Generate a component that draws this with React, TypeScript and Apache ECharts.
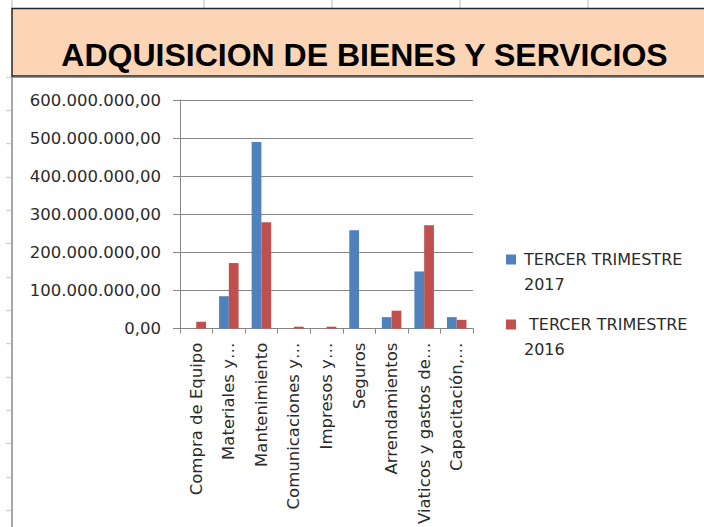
import React, { useEffect, useRef } from 'react';
import * as echarts from 'echarts';

const titleText = 'ADQUISICION DE BIENES Y SERVICIOS';
const categories = [
  'Compra de Equipo',
  'Materiales y…',
  'Mantenimiento',
  'Comunicaciones y…',
  'Impresos y…',
  'Seguros',
  'Arrendamientos',
  'Viaticos y gastos de…',
  'Capacitación,…',
];
const seriesNames = ['TERCER TRIMESTRE 2017', ' TERCER TRIMESTRE 2016'];
const values2017 = [0, 85000000, 490000000, 0, 0, 258000000, 30000000, 150000000, 30000000];
const values2016 = [18000000, 172000000, 279000000, 5000000, 5000000, 0, 47000000, 271000000, 23000000];
const yMin = 0;
const yMax = 600000000;
const yInterval = 100000000;

const fmt = (v: number) =>
  Math.round(v).toString().replace(/\B(?=(\d{3})+(?!\d))/g, '.') + ',00';

export default function App() {
  const ref = useRef<HTMLDivElement>(null);
  useEffect(() => {
    if (!ref.current) return;
    const chart = echarts.init(ref.current, null, { renderer: 'svg' });
    const topTicks = [12, 204, 332, 460, 588].map((x) => ({
      type: 'line',
      shape: { x1: x, y1: 0, x2: x, y2: 8 },
      style: { stroke: '#d0d0d0', lineWidth: 1.5 },
      silent: true,
    }));
    const leftTicks: any[] = [];
    for (let k = 0; k < 14; k++) {
      const y = Math.round(76.7 + k * 33.33) + 0.5;
      leftTicks.push({
        type: 'line',
        shape: { x1: 6, y1: y, x2: 12, y2: y },
        style: { stroke: '#d4d4d4', lineWidth: 1.5 },
        silent: true,
      });
    }
    const option: any = {
      animation: false,
      backgroundColor: '#ffffff',
      graphic: [
        ...topTicks,
        ...leftTicks,
        {
          type: 'line',
          shape: { x1: 12, y1: 76, x2: 12, y2: 527 },
          style: { stroke: '#a6a6a6', lineWidth: 2 },
          silent: true,
        },
        {
          type: 'rect',
          shape: { x: 12, y: 8.5, width: 700, height: 67.5 },
          style: { fill: '#FBD5B5', stroke: '#262626', lineWidth: 1.5 },
          silent: true,
        },
        {
          type: 'line',
          shape: { x1: 12, y1: 77.5, x2: 704, y2: 77.5 },
          style: { stroke: '#9a9a9a', lineWidth: 1 },
          silent: true,
        },
        {
          type: 'text',
          x: 364.5,
          y: 54.5,
          style: {
            text: titleText,
            font: 'bold 32px "Liberation Sans", Arial, sans-serif',
            fill: '#000000',
            align: 'center',
            verticalAlign: 'middle',
            textAlign: 'center',
            textVerticalAlign: 'middle',
          },
          silent: true,
        },
      ],
      grid: { left: 180, right: 231, top: 100, bottom: 196, containLabel: false },
      legend: {
        orient: 'vertical',
        left: 506,
        top: 247,
        padding: 0,
        itemWidth: 10,
        itemHeight: 35,
        itemGap: 15,
        icon: 'path://M0,0L10,0L10,10L0,10Z M0,35L0.01,35',
        data: seriesNames,
        formatter: (name: string) => name.replace(/ (\d{4})$/, '\n$1'),
        textStyle: {
          fontFamily: '"DejaVu Sans", sans-serif',
          fontSize: 16,
          color: '#2b2b2b',
          lineHeight: 25,
          padding: [0, 0, 0, 3],
        },
      },
      xAxis: {
        type: 'category',
        data: categories,
        boundaryGap: true,
        axisLine: { lineStyle: { color: '#868686', width: 1 } },
        axisTick: { show: true, length: 5, alignWithLabel: false, lineStyle: { color: '#868686' } },
        axisLabel: {
          rotate: 90,
          interval: 0,
          margin: 14,
          fontFamily: '"DejaVu Sans", sans-serif',
          fontSize: 16.5,
          color: '#2b2b2b',
        },
      },
      yAxis: {
        type: 'value',
        min: yMin,
        max: yMax,
        interval: yInterval,
        axisLine: { show: true, lineStyle: { color: '#868686', width: 1 } },
        axisTick: { show: true, length: 7, lineStyle: { color: '#868686' } },
        splitLine: { show: true, lineStyle: { color: '#868686', width: 1 } },
        axisLabel: {
          margin: 19,
          formatter: fmt,
          fontFamily: '"DejaVu Sans", sans-serif',
          fontSize: 16.5,
          color: '#2b2b2b',
        },
      },
      series: [
        {
          name: seriesNames[0],
          type: 'bar',
          data: values2017,
          barGap: '0%',
          barCategoryGap: '40%',
          itemStyle: { color: '#4F81BD' },
        },
        {
          name: seriesNames[1],
          type: 'bar',
          data: values2016,
          barGap: '0%',
          barCategoryGap: '40%',
          itemStyle: { color: '#C0504D' },
        },
      ],
    };
    chart.setOption(option);
    return () => chart.dispose();
  }, []);
  return (
    <div
      ref={ref}
      style={{ position: 'fixed', left: 0, top: 0, width: 704, height: 527, background: '#fff' }}
    />
  );
}
